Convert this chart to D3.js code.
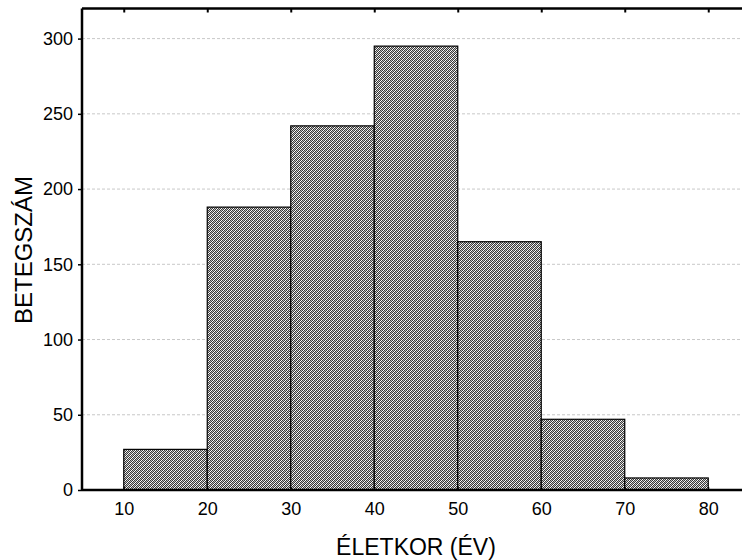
<!DOCTYPE html>
<html>
<head>
<meta charset="utf-8">
<script src="https://cdn.jsdelivr.net/npm/d3@7"></script>
<style>
  body { margin: 0; background: #fff; }
  svg text { font-family: "Liberation Sans", Arial, sans-serif; fill: #000; }
</style>
</head>
<body>
<svg id="chart" width="742" height="560"></svg>
<script>
// bins (age ranges) and patient counts
const binStarts = [10, 20, 30, 40, 50, 60, 70];
const binWidth = 10;
const counts = [27, 188, 242, 295, 165, 47, 8];
const xTicks = [10, 20, 30, 40, 50, 60, 70, 80];
const yTicks = [0, 50, 100, 150, 200, 250, 300];

const svg = d3.select('#chart');
const plotLeft = 82, plotRight = 750, plotTop = 8.5, plotBottom = 490;

const x = d3.scaleLinear().domain([5, 85]).range([plotLeft, plotRight]);
const y = d3.scaleLinear().domain([0, 320]).range([plotBottom, plotTop]);

// checkered fill, built pixel by pixel
const defs = svg.append('defs');
const pat = defs.append('pattern')
    .attr('id', 'hatch')
    .attr('patternUnits', 'userSpaceOnUse')
    .attr('width', 4).attr('height', 4);
const K = '#3a3a3a', W = '#ffffff', G = '#bdbdbd';
const cells = [
    [K, W, K, G],
    [W, K, G, K],
    [K, G, K, W],
    [G, K, W, K]
];
cells.forEach((row, r) => {
    row.forEach((c, k) => {
        pat.append('rect')
            .attr('x', k).attr('y', r)
            .attr('width', 1).attr('height', 1)
            .attr('fill', c)
            .attr('shape-rendering', 'crispEdges');
    });
});

// gridlines
svg.append('g')
    .selectAll('line')
    .data(yTicks.filter(d => d > 0))
    .enter()
    .append('line')
    .attr('x1', plotLeft).attr('x2', plotRight)
    .attr('y1', d => y(d)).attr('y2', d => y(d))
    .attr('stroke', '#c8c8c8')
    .attr('stroke-dasharray', '3,2');

// bars
svg.append('g')
    .selectAll('rect')
    .data(binStarts)
    .enter()
    .append('rect')
    .attr('x', d => x(d))
    .attr('y', (d, i) => y(counts[i]))
    .attr('width', d => x(d + binWidth) - x(d))
    .attr('height', (d, i) => y(0) - y(counts[i]))
    .attr('fill', 'url(#hatch)')
    .attr('stroke', '#000')
    .attr('stroke-width', 1.2);

// left axis
const yAxis = svg.append('g')
    .attr('transform', `translate(${plotLeft},0)`)
    .call(d3.axisLeft(y).tickValues(yTicks).tickSize(4).tickPadding(5));
yAxis.select('.domain').remove();
yAxis.selectAll('text').style('font-size', '18px');
yAxis.selectAll('line').attr('stroke-width', 1.5);

// bottom axis
const xAxis = svg.append('g')
    .attr('transform', `translate(0,${plotBottom})`)
    .call(d3.axisBottom(x).tickValues(xTicks).tickFormat(d3.format('d')).tickSize(-3).tickPadding(12));
xAxis.select('.domain').remove();
xAxis.selectAll('text').style('font-size', '18px');

// top axis ticks
const topAxis = svg.append('g')
    .attr('transform', `translate(0,${plotTop})`)
    .call(d3.axisTop(x).tickValues(xTicks).tickSize(-4).tickFormat(''));
topAxis.select('.domain').remove();
topAxis.selectAll('line').attr('stroke-width', 2);

// frame lines
svg.append('line').attr('x1', plotLeft).attr('x2', plotLeft).attr('y1', plotTop).attr('y2', plotBottom)
    .attr('stroke', '#000').attr('stroke-width', 2.5);
svg.append('line').attr('x1', plotLeft).attr('x2', plotRight).attr('y1', plotBottom).attr('y2', plotBottom)
    .attr('stroke', '#000').attr('stroke-width', 2.5);
svg.append('line').attr('x1', plotLeft).attr('x2', plotRight).attr('y1', plotTop).attr('y2', plotTop)
    .attr('stroke', '#000').attr('stroke-width', 2.5);

// axis titles
svg.append('text')
    .attr('x', 416)
    .attr('y', 555)
    .attr('text-anchor', 'middle')
    .style('font-size', '23px')
    .text('ÉLETKOR (ÉV)');

svg.append('text')
    .attr('transform', `translate(32,250) rotate(-90)`)
    .attr('text-anchor', 'middle')
    .style('font-size', '24px')
    .text('BETEGSZÁM');
</script>
</body>
</html>
